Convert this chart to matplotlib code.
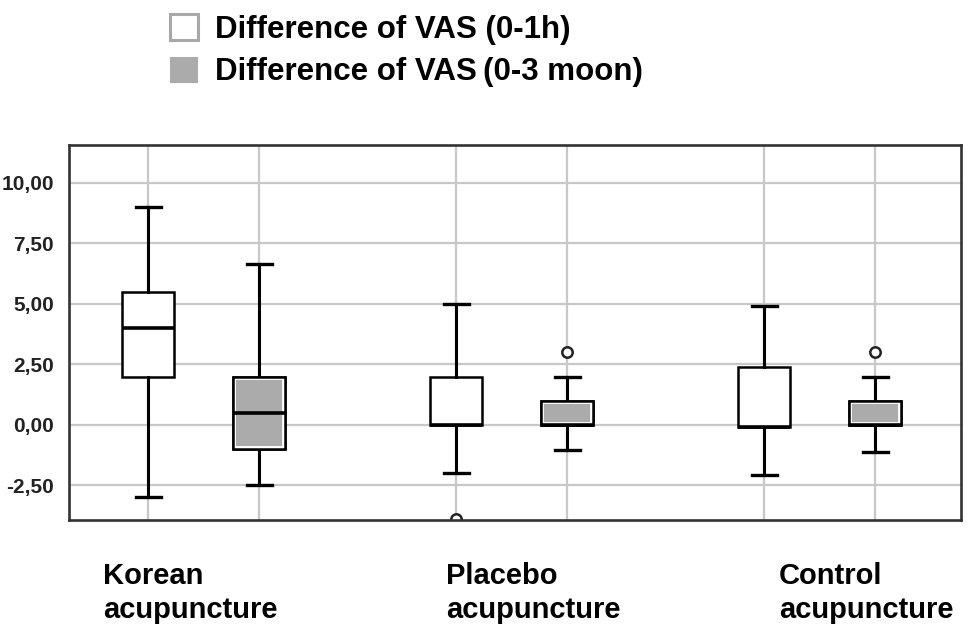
import matplotlib
matplotlib.use("Agg")
import matplotlib.pyplot as plt
from matplotlib.patches import Patch, PathPatch

# box statistics
groups = ["Korean\nacupuncture", "Placebo\nacupuncture", "Control\nacupuncture"]
series = ["Difference of VAS (0-1h)", "Difference of VAS\u2009(0-3 moon)"]

low_1h = [-3.0, -2.0, -2.05]
q1_1h = [2.0, 0.0, -0.08]
med_1h = [4.0, 0.0, -0.08]
q3_1h = [5.5, 2.0, 2.4]
high_1h = [9.0, 5.0, 4.9]
out_1h = [[], [-3.9], []]

low_3m = [-2.5, -1.05, -1.1]
q1_3m = [-1.0, 0.0, 0.0]
med_3m = [0.5, 0.0, 0.0]
q3_3m = [2.0, 1.0, 1.0]
high_3m = [6.65, 2.0, 2.0]
out_3m = [[], [3.0], [3.0]]

yticks = [-2.5, 0.0, 2.5, 5.0, 7.5, 10.0]
ytick_labels = ["-2,50", "0,00", "2,50", "5,00", "7,50", "10,00"]

plt.rcParams['font.family'] = ['Liberation Sans', 'DejaVu Sans']

fig = plt.figure(figsize=(9.8, 6.41), dpi=100)
ax = fig.add_axes([69 / 980, 1 - 520 / 641, (961 - 69) / 980, (520 - 145) / 641])

offset = 0.18
width = 0.169


def make_stats(low, q1, med, q3, high, out):
    return [dict(whislo=low[i], q1=q1[i], med=med[i], q3=q3[i], whishi=high[i], fliers=out[i])
            for i in range(len(low))]


pos_1h = [i + 1 - offset for i in range(len(groups))]
pos_3m = [i + 1 + offset for i in range(len(groups))]

common = dict(widths=width, patch_artist=True, capwidths=width * 0.48, manage_ticks=False,
              whiskerprops=dict(color='black', linewidth=2.2),
              capprops=dict(color='black', linewidth=2.4),
              medianprops=dict(color='black', linewidth=2.6, solid_capstyle='butt'),
              flierprops=dict(marker='o', markersize=7.5, markerfacecolor='white',
                              markeredgecolor='#222222', markeredgewidth=1.8))

b1 = ax.bxp(make_stats(low_1h, q1_1h, med_1h, q3_1h, high_1h, out_1h), positions=pos_1h,
            boxprops=dict(facecolor='white', edgecolor='black', linewidth=1.8), **common)
b2 = ax.bxp(make_stats(low_3m, q1_3m, med_3m, q3_3m, high_3m, out_3m), positions=pos_3m,
            boxprops=dict(facecolor='#ababab', edgecolor='black', linewidth=1.8), **common)

# white inner rim on the grey boxes
for p in b2['boxes']:
    rim = PathPatch(p.get_path(), transform=p.get_transform(), facecolor='none',
                    edgecolor='white', linewidth=4.2, zorder=p.get_zorder() + 0.1)
    rim.set_clip_path(p)
    ax.add_patch(rim)
    edge = PathPatch(p.get_path(), transform=p.get_transform(), facecolor='none',
                     edgecolor='black', linewidth=1.8, zorder=p.get_zorder() + 0.2)
    ax.add_patch(edge)
for m in b2['medians']:
    m.set_zorder(3)

ax.set_xlim(0.563, 3.459)
ax.set_ylim(-3.93, 11.57)
ax.set_xticks(pos_1h + pos_3m)
ax.set_xticklabels([])
ax.set_yticks(yticks)
ax.set_yticklabels(ytick_labels, fontsize=15, fontweight='bold', color='#222222')
ax.tick_params(length=0, pad=11)
ax.grid(True, color='#c8c8c8', linewidth=1.6)
ax.set_axisbelow(True)
for s in ax.spines.values():
    s.set_color('#333333')
    s.set_linewidth(1.9)

for name, x in zip(groups, [103, 446, 779]):
    fig.text(x / 980, 1 - 562 / 641, name, ha='left', va='top', fontsize=21,
             fontweight='bold', linespacing=1.25)

handles = [Patch(facecolor='white', edgecolor='#a8a8a8', linewidth=2.2),
           Patch(facecolor='#ababab', edgecolor='none')]
fig.legend(handles, series, loc='upper left', bbox_to_anchor=(170 / 980, 1 - 14 / 641),
           frameon=False, borderpad=0, borderaxespad=0, handlelength=0.9, handleheight=0.9,
           handletextpad=0.55, labelspacing=0.38, prop=dict(size=22.5, weight='bold'))

fig.savefig("out.png", dpi=100, facecolor='white')
